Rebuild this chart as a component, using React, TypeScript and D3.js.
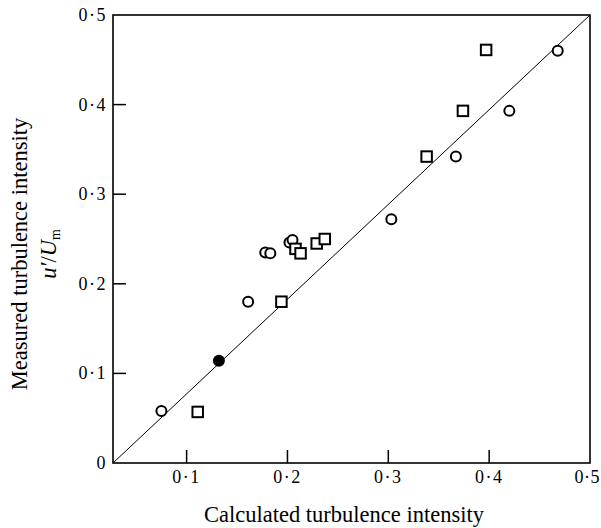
import React from "react";
import * as d3 from "d3";

// calculated vs measured turbulence intensity
const circleCalc = [0.075, 0.161, 0.178, 0.183, 0.202, 0.205, 0.303, 0.367, 0.42, 0.468];
const circleMeas = [0.058, 0.18, 0.235, 0.234, 0.246, 0.249, 0.272, 0.342, 0.393, 0.46];
const squareCalc = [0.111, 0.194, 0.208, 0.213, 0.229, 0.237, 0.338, 0.374, 0.397];
const squareMeas = [0.057, 0.18, 0.239, 0.234, 0.245, 0.25, 0.342, 0.393, 0.461];
const filledCalc = [0.132];
const filledMeas = [0.114];

const xTicks = [0.1, 0.2, 0.3, 0.4, 0.5];
const yTicks = [0, 0.1, 0.2, 0.3, 0.4, 0.5];
const xDomain = [0.027, 0.5];
const yDomain = [0, 0.5];

const fmt = (v: number) => (v === 0 ? "0" : v.toFixed(1).replace(".", "·"));

const App = () => {
  const width = 601;
  const height = 528;
  const left = 113;
  const right = 590;
  const top = 15;
  const bottom = 463;

  const x = d3.scaleLinear().domain(xDomain).range([left, right]);
  const y = d3.scaleLinear().domain(yDomain).range([bottom, top]);

  const diag = d3
    .line<[number, number]>()
    .x((d) => x(d[0]))
    .y((d) => y(d[1]));

  const font = "'Liberation Serif', 'Times New Roman', serif";
  const r = 5;
  const s = 10.5;

  return (
    <svg
      width={width}
      height={height}
      style={{ position: "absolute", left: 0, top: 0, background: "#fff" }}
      fontFamily={font}
    >
      <rect
        x={left}
        y={top}
        width={right - left}
        height={bottom - top}
        fill="none"
        stroke="#000"
        strokeWidth={1.6}
      />
      <path
        d={diag([
          [xDomain[0], yDomain[0]],
          [xDomain[1], yDomain[1]],
        ]) as string}
        fill="none"
        stroke="#000"
        strokeWidth={1}
      />
      {xTicks.map((t, i) => {
        // last label sits against the page edge
        const last = t === 0.5;
        return (
          <g key={i} transform={`translate(${x(t)},${bottom})`}>
            {!last && <line y1={0} y2={-13} stroke="#000" strokeWidth={1.5} />}
            <text
              x={last ? width - 1 - x(t) : 0}
              y={20}
              textAnchor={last ? "end" : "middle"}
              fontSize={18}
              letterSpacing={last ? 0.5 : 1.5}
            >
              {fmt(t)}
            </text>
          </g>
        );
      })}
      {yTicks.map((t, i) => (
        <g key={i} transform={`translate(${left},${y(t)})`}>
          {t > 0 && t < 0.5 && <line x1={0} x2={13} stroke="#000" strokeWidth={1.5} />}
          <text x={-6} y={6} textAnchor="end" fontSize={18} letterSpacing={1.5}>
            {fmt(t)}
          </text>
        </g>
      ))}
      {circleCalc.map((v, i) => (
        <circle
          key={"c" + i}
          cx={x(v)}
          cy={y(circleMeas[i])}
          r={r}
          fill="#fff"
          stroke="#000"
          strokeWidth={2}
        />
      ))}
      {squareCalc.map((v, i) => (
        <rect
          key={"s" + i}
          x={x(v) - s / 2}
          y={y(squareMeas[i]) - s / 2}
          width={s}
          height={s}
          fill="#fff"
          stroke="#000"
          strokeWidth={2}
        />
      ))}
      {filledCalc.map((v, i) => (
        <circle key={"f" + i} cx={x(v)} cy={y(filledMeas[i])} r={6} fill="#000" />
      ))}
      <text x={344} y={522} textAnchor="middle" fontSize={22.5}>
        Calculated turbulence intensity
      </text>
      <g transform="translate(27,254) rotate(-90)">
        <text x={0} y={0} textAnchor="middle" fontSize={22.5}>
          Measured turbulence intensity
        </text>
        <text x={0} y={29} textAnchor="middle" fontSize={22.5}>
          <tspan fontStyle="italic">u′</tspan>
          <tspan>/</tspan>
          <tspan fontStyle="italic">U</tspan>
          <tspan fontSize={14} dy={4}>m</tspan>
        </text>
      </g>
    </svg>
  );
};

export default App;
